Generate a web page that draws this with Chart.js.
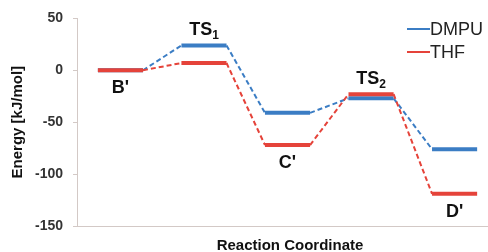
<!DOCTYPE html>
<html>
<head>
<meta charset="utf-8">
<script src="https://cdn.jsdelivr.net/npm/chart.js@4"></script>
<style>
  html, body { margin: 0; padding: 0; background: #fff; }
  #wrap { width: 488px; height: 252px; }
</style>
</head>
<body>
<div id="wrap"><canvas id="energy-chart" width="488" height="252"></canvas></div>
<script>
// Данные диаграммы
const states = ["B'", 'TS', "C'", 'TS', "D'"];
const stateSubs = ['', '1', '', '2', ''];
const dmpuEnergy = [0, 24, -41, -27, -76];
const thfEnergy = [0, 7, -72, -23, -119];
const yTicks = [50, 0, -50, -100, -150];
const seriesNames = ['DMPU', 'THF'];

const BLUE = '#3b7dc4';
const RED = '#e5433a';
const AXIS = '#d3c9c6';
const FONT = '"Liberation Sans", Arial, sans-serif';
const HALF = 0.27; // половина ширины уровня

// уровень -> две точки (начало и конец площадки)
function levelPoints(values) {
    const pts = [];
    values.forEach((v, i) => {
        pts.push({ x: i + 1 - HALF, y: v });
        pts.push({ x: i + 1 + HALF, y: v });
    });
    return pts;
}

function lineDataset(label, values, color, order) {
    return {
        label: label,
        data: levelPoints(values),
        borderColor: color,
        borderWidth: 2,
        pointRadius: 0,
        tension: 0,
        order: order,
        segment: {
            borderWidth: ctx => ctx.p0DataIndex % 2 === 0 ? 4 : 2,
            borderDash: ctx => ctx.p0DataIndex % 2 === 0 ? [] : [5, 3]
        }
    };
}

// Подписи состояний, подпись оси X и легенда
const annotations = {
    id: 'annotations',
    afterDatasetsDraw(chart) {
        const { ctx, scales: { x, y } } = chart;
        ctx.save();
        ctx.fillStyle = '#111';
        states.forEach((name, i) => {
            const isTS = stateSubs[i] !== '';
            const top = Math.max(dmpuEnergy[i], thfEnergy[i]);
            const bottom = Math.min(dmpuEnergy[i], thfEnergy[i]);
            const cx = x.getPixelForValue(i + 1);
            ctx.font = 'bold 18px ' + FONT;
            const w1 = ctx.measureText(name).width;
            ctx.font = 'bold 12px ' + FONT;
            const w2 = stateSubs[i] ? ctx.measureText(stateSubs[i]).width : 0;
            const left = cx - (w1 + w2) / 2;
            const base = isTS ? y.getPixelForValue(top) - 10 : y.getPixelForValue(bottom) + 23;
            ctx.textBaseline = 'alphabetic';
            ctx.textAlign = 'left';
            ctx.font = 'bold 18px ' + FONT;
            ctx.fillText(name, left, base);
            if (stateSubs[i]) {
                ctx.font = 'bold 12px ' + FONT;
                ctx.fillText(stateSubs[i], left + w1, base + 4);
            }
        });

        // подпись оси X
        ctx.font = 'bold 15px ' + FONT;
        ctx.textAlign = 'center';
        ctx.fillText('Reaction Coordinate', 290, 250);

        // легенда
        const colors = [BLUE, RED];
        ctx.font = '18px ' + FONT;
        ctx.textAlign = 'left';
        ctx.textBaseline = 'middle';
        seriesNames.forEach((name, i) => {
            const ly = 29 + i * 23;
            ctx.strokeStyle = colors[i];
            ctx.lineWidth = 2;
            ctx.beginPath();
            ctx.moveTo(407, ly);
            ctx.lineTo(430, ly);
            ctx.stroke();
            ctx.fillStyle = '#222';
            ctx.fillText(name, 430, ly + 1);
        });
        ctx.restore();
    }
};

new Chart(document.getElementById('energy-chart'), {
    type: 'line',
    data: {
        datasets: [
            lineDataset(seriesNames[0], dmpuEnergy, BLUE, 1),
            lineDataset(seriesNames[1], thfEnergy, RED, 0)
        ]
    },
    options: {
        responsive: false,
        animation: false,
        layout: { padding: { top: 18, right: 0, left: 0, bottom: 0 } },
        plugins: {
            legend: { display: false },
            tooltip: { enabled: false }
        },
        scales: {
            x: {
                type: 'linear',
                min: 0.48,
                max: 5.40,
                grid: { display: false },
                border: { color: AXIS, width: 1 },
                ticks: { display: false },
                afterFit: s => { s.height = 26; }
            },
            y: {
                min: -150,
                max: 50,
                afterBuildTicks: s => { s.ticks = yTicks.map(v => ({ value: v })); },
                grid: { drawOnChartArea: false, drawTicks: true, tickLength: 4, color: AXIS },
                border: { color: AXIS, width: 1 },
                ticks: {
                    color: '#333',
                    padding: 10,
                    font: { family: FONT, size: 14, weight: 'bold' }
                },
                title: {
                    display: true,
                    text: 'Energy [kJ/mol]',
                    color: '#111',
                    font: { family: FONT, size: 15, weight: 'bold', lineHeight: 1.2 },
                    padding: { top: 9, bottom: 0 }
                },
                afterFit: s => { s.width = 77; }
            }
        }
    },
    plugins: [annotations]
});
</script>
</body>
</html>
